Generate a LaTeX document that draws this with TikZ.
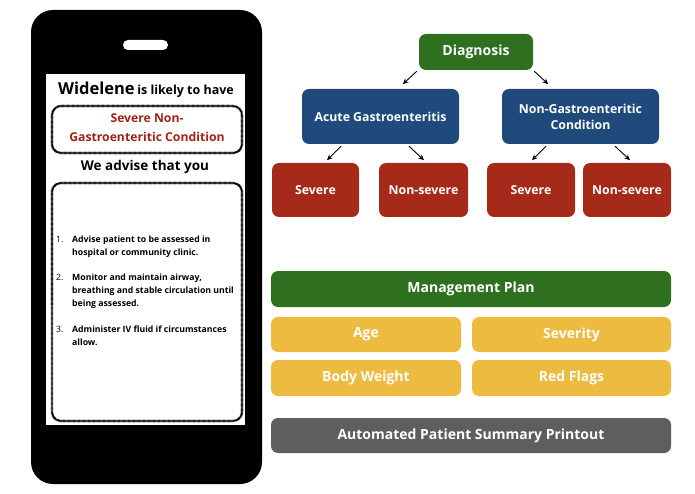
\documentclass[tikz,border=0pt]{standalone}
\usepackage{fontspec}
\setmainfont{Open Sans}
\usetikzlibrary{arrows.meta,positioning,calc}
\definecolor{leaf}{RGB}{46,112,32}
\definecolor{navy}{RGB}{31,74,123}
\definecolor{rust}{RGB}{165,42,26}
\definecolor{mustard}{RGB}{237,187,64}
\definecolor{slate}{RGB}{94,94,94}
\definecolor{alert}{RGB}{160,36,22}
\tikzset{
  >={Stealth[length=2mm,width=1.8mm]},
  tile/.style={fill=#1,text=white,rounded corners=7pt,align=center,inner sep=0pt,
    font=\bfseries\fontsize{12.3}{16}\selectfont},
  tile/.default=navy,
  bar/.style={tile=#1,minimum width=400pt,minimum height=36pt,font=\bfseries\fontsize{14}{16}\selectfont},
  half/.style={bar=mustard,minimum height=36pt},
  scribble/.style={draw=black,line width=1.3pt,rounded corners=9pt,
    postaction={draw,line width=2.6pt,dash pattern=on 0.45pt off 0.8pt}},
  step arrow/.style={->,line width=0.9pt},
  item/.style={anchor=north west,align=left,inner sep=0pt,
    font=\bfseries\fontsize{8.7}{12.6}\selectfont},
  num/.style={anchor=north west,inner sep=0pt,font=\fontsize{8.7}{12.6}\selectfont},
}
\begin{document}
\begin{tikzpicture}[x=1pt,y=-1pt]
  \useasboundingbox (0,0) rectangle (695,494);
  % phone
  \fill[black,rounded corners=22pt] (31,10) rectangle (262,484);
  \fill[white,rounded corners=5pt] (123,40) rectangle (168,50);
  \fill[white] (46,74) rectangle (245,425);
  \draw[scribble] (52,106) rectangle (242,153);
  \draw[scribble] (52,183) rectangle (242,421);
  % phone texts
  \node[font=\bfseries] (patient) at (146,90)
    {{\fontsize{16.5}{18}\selectfont Widelene} {\fontsize{12.5}{15}\selectfont is likely to have}};
  \node[align=center,text=alert,font=\bfseries\fontsize{12.2}{19}\selectfont] (verdict) at (147,128)
    {Severe Non-\\Gastroenteritic Condition};
  \node[font=\bfseries\fontsize{13.5}{15}\selectfont] (advise) at (145,167) {We advise that you};
  \node[num] (n1) at (56,236) {1.};
  \node[item] (i1) at (72,236) {Advise patient to be assessed in\\hospital or community clinic.};
  \node[num] (n2) at (56,274) {2.};
  \node[item] (i2) at (72,274) {Monitor and maintain airway,\\breathing and stable circulation until\\being assessed.};
  \node[num] (n3) at (56,326) {3.};
  \node[item] (i3) at (72,326) {Administer IV fluid if circumstances\\allow.};

  % diagnosis tree
  \node[tile=leaf,minimum width=114pt,minimum height=36pt,font=\bfseries\fontsize{14}{16}\selectfont] (diag) at (476,52) {Diagnosis};
  \node[tile=navy,minimum width=157pt,minimum height=55pt] (acute) at (380.5,116.5) {Acute Gastroenteritis};
  \node[tile=navy,minimum width=157pt,minimum height=55pt] (other) at (580.5,116.5) {Non-Gastroenteritic\\Condition};
  \node[tile=rust,minimum width=87pt,minimum height=54pt] (sev1) at (315.5,190) {Severe};
  \node[tile=rust,minimum width=89pt,minimum height=54pt] (mild1) at (423.5,190) {Non-severe};
  \node[tile=rust,minimum width=88pt,minimum height=54pt] (sev2) at (531,190) {Severe};
  \node[tile=rust,minimum width=88pt,minimum height=54pt] (mild2) at (627,190) {Non-severe};
  \draw[step arrow] ($(diag.south west)+(-2,1)$) -- ++(-14,13);
  \draw[step arrow] ($(diag.south east)+(1,1)$) -- ++(14,13);
  \draw[step arrow] ($(acute.south)+(-39.5,2)$) -- ++(-14,14);
  \draw[step arrow] ($(acute.south)+(28.5,2)$) -- ++(15,14);
  \draw[step arrow] ($(other.south)+(-34.5,2)$) -- ++(-14,14);
  \draw[step arrow] ($(other.south)+(34.5,2)$) -- ++(15,14);

  % management plan
  \node[bar=leaf] (plan) at (471,289) {Management Plan};
  \node[half,minimum width=190pt,minimum height=35pt] (age) at (366,334.5) {Age};
  \node[half,minimum width=199pt,minimum height=35pt] (severity) at (571.5,334.5) {Severity};
  \node[half,minimum width=190pt] (weight) at (366,378) {Body Weight};
  \node[half,minimum width=199pt] (flags) at (571.5,378) {Red Flags};
  \node[bar=slate,minimum height=35pt] (printout) at (471,435.5) {Automated Patient Summary Printout};
\end{tikzpicture}
\end{document}
